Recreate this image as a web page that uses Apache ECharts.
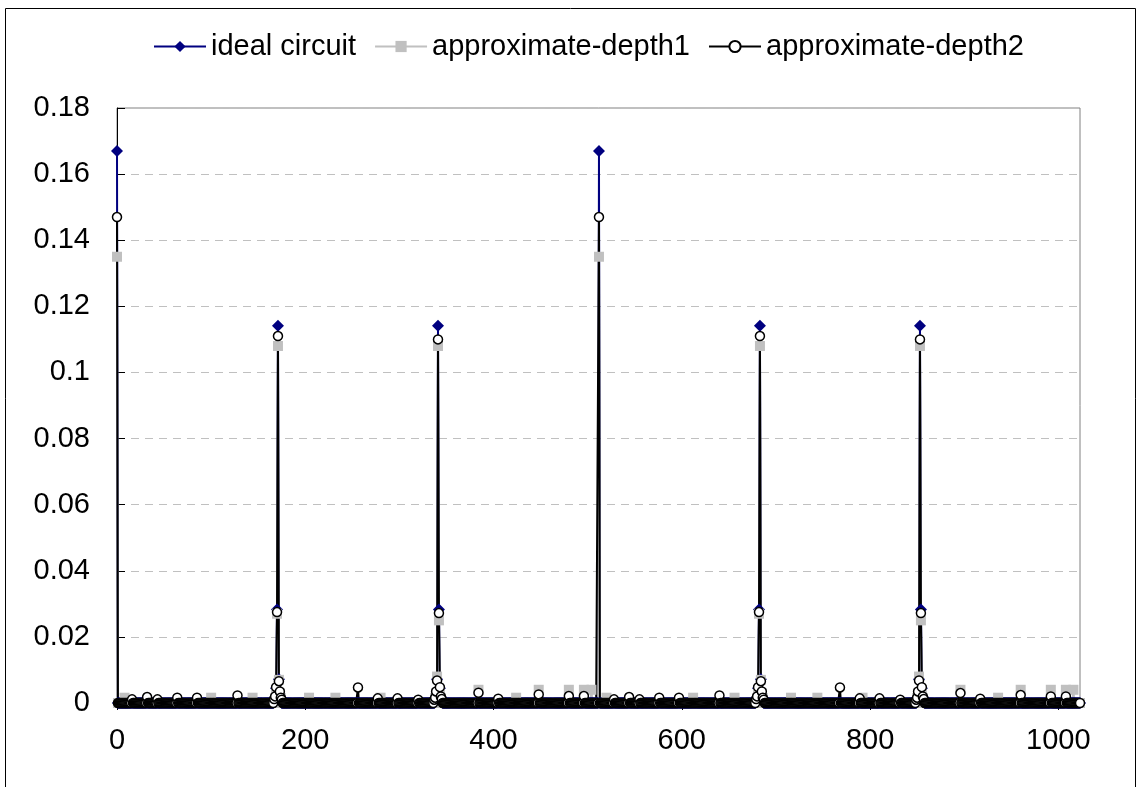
<!DOCTYPE html>
<html><head><meta charset="utf-8">
<script src="https://cdn.jsdelivr.net/npm/echarts@6/dist/echarts.min.js"></script>
<style>html,body{margin:0;padding:0;background:#fff}#c{width:1139px;height:787px}</style>
</head><body><div id="c"></div>
<script>
const seriesNames = ['ideal circuit', 'approximate-depth1', 'approximate-depth2'];
const xTickValues = [0, 200, 400, 600, 800, 1000];
const xTickLabels = ['0', '200', '400', '600', '800', '1000'];
const yTickValues = [0, 0.02, 0.04, 0.06, 0.08, 0.1, 0.12, 0.14, 0.16, 0.18];
const yTickLabels = ['0', '0.02', '0.04', '0.06', '0.08', '0.1', '0.12', '0.14', '0.16', '0.18'];

// values for x = 0..1023, 32 per row (row start index in comment)
const ideal = [
/*0*/   .167,0,0,0,0,0,0,0, 0,0,0,0,0,0,0,0, 0,0,0,0,0,0,0,0, 0,0,0,0,0,0,0,0,
/*32*/  0,0,0,0,0,0,0,0, 0,0,0,0,0,0,0,0, 0,0,0,0,0,0,0,0, 0,0,0,0,0,0,0,0,
/*64*/  0,0,0,0,0,0,0,0, 0,0,0,0,0,0,0,0, 0,0,0,0,0,0,0,0, 0,0,0,0,0,0,0,0,
/*96*/  0,0,0,0,0,0,0,0, 0,0,0,0,0,0,0,0, 0,0,0,0,0,0,0,0, 0,0,0,0,0,0,0,0,
/*128*/ 0,0,0,0,0,0,0,0, 0,0,0,0,0,0,0,0, 0,0,0,0,0,0,0,0, 0,0,0,0,0,0,0,0,
/*160*/ 0,0,0,0,0,0,0,.001, .00175,.0045,.0283,.1141,.00717,.00236,.00116,0, 0,0,0,0,0,0,0,0, 0,0,0,0,0,0,0,0,
/*192*/ 0,0,0,0,0,0,0,0, 0,0,0,0,0,0,0,0, 0,0,0,0,0,0,0,0, 0,0,0,0,0,0,0,0,
/*224*/ 0,0,0,0,0,0,0,0, 0,0,0,0,0,0,0,0, 0,0,0,0,0,0,0,0, 0,0,0,0,0,0,0,0,
/*256*/ 0,0,0,0,0,0,0,0, 0,0,0,0,0,0,0,0, 0,0,0,0,0,0,0,0, 0,0,0,0,0,0,0,0,
/*288*/ 0,0,0,0,0,0,0,0, 0,0,0,0,0,0,0,0, 0,0,0,0,0,0,0,0, 0,0,0,0,0,0,0,0,
/*320*/ 0,0,0,0,0,0,0,0, 0,0,0,0,0,0,0,0, 0,0,.00116,.00236,.00717,.1141,.0283,.0045, .00175,.001,0,0,0,0,0,0,
/*352*/ 0,0,0,0,0,0,0,0, 0,0,0,0,0,0,0,0, 0,0,0,0,0,0,0,0, 0,0,0,0,0,0,0,0,
/*384*/ 0,0,0,0,0,0,0,0, 0,0,0,0,0,0,0,0, 0,0,0,0,0,0,0,0, 0,0,0,0,0,0,0,0,
/*416*/ 0,0,0,0,0,0,0,0, 0,0,0,0,0,0,0,0, 0,0,0,0,0,0,0,0, 0,0,0,0,0,0,0,0,
/*448*/ 0,0,0,0,0,0,0,0, 0,0,0,0,0,0,0,0, 0,0,0,0,0,0,0,0, 0,0,0,0,0,0,0,0,
/*480*/ 0,0,0,0,0,0,0,0, 0,0,0,0,0,0,0,0, 0,0,0,0,0,0,0,0, 0,0,0,0,0,0,0,0,
/*512*/ .167,0,0,0,0,0,0,0, 0,0,0,0,0,0,0,0, 0,0,0,0,0,0,0,0, 0,0,0,0,0,0,0,0,
/*544*/ 0,0,0,0,0,0,0,0, 0,0,0,0,0,0,0,0, 0,0,0,0,0,0,0,0, 0,0,0,0,0,0,0,0,
/*576*/ 0,0,0,0,0,0,0,0, 0,0,0,0,0,0,0,0, 0,0,0,0,0,0,0,0, 0,0,0,0,0,0,0,0,
/*608*/ 0,0,0,0,0,0,0,0, 0,0,0,0,0,0,0,0, 0,0,0,0,0,0,0,0, 0,0,0,0,0,0,0,0,
/*640*/ 0,0,0,0,0,0,0,0, 0,0,0,0,0,0,0,0, 0,0,0,0,0,0,0,0, 0,0,0,0,0,0,0,0,
/*672*/ 0,0,0,0,0,0,0,.001, .00175,.0045,.0283,.1141,.00717,.00236,.00116,0, 0,0,0,0,0,0,0,0, 0,0,0,0,0,0,0,0,
/*704*/ 0,0,0,0,0,0,0,0, 0,0,0,0,0,0,0,0, 0,0,0,0,0,0,0,0, 0,0,0,0,0,0,0,0,
/*736*/ 0,0,0,0,0,0,0,0, 0,0,0,0,0,0,0,0, 0,0,0,0,0,0,0,0, 0,0,0,0,0,0,0,0,
/*768*/ 0,0,0,0,0,0,0,0, 0,0,0,0,0,0,0,0, 0,0,0,0,0,0,0,0, 0,0,0,0,0,0,0,0,
/*800*/ 0,0,0,0,0,0,0,0, 0,0,0,0,0,0,0,0, 0,0,0,0,0,0,0,0, 0,0,0,0,0,0,0,0,
/*832*/ 0,0,0,0,0,0,0,0, 0,0,0,0,0,0,0,0, 0,0,.00116,.00236,.00717,.1141,.0283,.0045, .00175,.001,0,0,0,0,0,0,
/*864*/ 0,0,0,0,0,0,0,0, 0,0,0,0,0,0,0,0, 0,0,0,0,0,0,0,0, 0,0,0,0,0,0,0,0,
/*896*/ 0,0,0,0,0,0,0,0, 0,0,0,0,0,0,0,0, 0,0,0,0,0,0,0,0, 0,0,0,0,0,0,0,0,
/*928*/ 0,0,0,0,0,0,0,0, 0,0,0,0,0,0,0,0, 0,0,0,0,0,0,0,0, 0,0,0,0,0,0,0,0,
/*960*/ 0,0,0,0,0,0,0,0, 0,0,0,0,0,0,0,0, 0,0,0,0,0,0,0,0, 0,0,0,0,0,0,0,0,
/*992*/ 0,0,0,0,0,0,0,0, 0,0,0,0,0,0,0,0, 0,0,0,0,0,0,0,0, 0,0,0,0,0,0,0,0
];

const depth1 = [
/*0*/   .135,0,0,0,0,0,0,0, .0016,0,0,0,0,0,0,0, 0,0,0,0,0,0,0,0, 0,0,0,0,0,0,0,0,
/*32*/  0,0,0,0,0,0,0,0, 0,0,0,0,0,0,0,0, 0,0,0,0,0,0,0,0, 0,0,0,0,0,0,0,0,
/*64*/  0,0,0,0,0,0,0,0, 0,0,0,0,0,0,0,0, 0,0,0,0,0,0,0,0, 0,0,0,0,0,0,0,0,
/*96*/  0,0,0,0,.0016,0,0,0, 0,0,0,0,0,0,0,0, 0,0,0,0,0,0,0,0, 0,0,0,0,0,0,0,0,
/*128*/ 0,0,0,0,0,0,0,0, 0,0,0,0,0,0,0,0, .0016,0,0,0,0,0,0,0, 0,0,0,0,0,0,0,0,
/*160*/ 0,0,0,0,0,0,0,0, .0015,.004,.027,.108,.007,.003,.0015,0, 0,0,0,0,0,0,0,0, 0,0,0,0,0,0,0,0,
/*192*/ 0,0,0,0,0,0,0,0, 0,0,0,0,.0016,0,0,0, 0,0,0,0,0,0,0,0, 0,0,0,0,0,0,0,0,
/*224*/ 0,0,0,0,0,0,0,0, .0016,0,0,0,0,0,0,0, 0,0,0,0,0,0,0,0, 0,0,0,0,0,0,0,0,
/*256*/ 0,0,0,0,0,0,0,0, 0,0,0,0,0,0,0,0, 0,0,0,0,0,0,0,0, .0016,0,0,0,0,0,0,0,
/*288*/ 0,0,0,0,0,0,0,0, 0,0,0,0,0,0,0,0, 0,0,0,0,0,0,0,0, 0,0,0,0,0,0,0,0,
/*320*/ 0,0,0,0,0,0,0,0, 0,0,0,0,0,0,0,0, 0,0,.0015,.003,.008,.108,.025,.004, .0015,0,0,0,0,0,0,0,
/*352*/ 0,0,0,0,0,0,0,0, 0,0,0,0,0,0,0,0, 0,0,0,0,0,0,0,0, 0,0,0,0,0,0,0,0,
/*384*/ .004,0,0,0,0,0,0,0, 0,0,0,0,0,0,0,0, 0,0,0,0,0,0,0,0, 0,0,0,0,0,0,0,0,
/*416*/ 0,0,0,0,0,0,0,0, .0016,0,0,0,0,0,0,0, 0,0,0,0,0,0,0,0, 0,0,0,0,0,0,0,0,
/*448*/ .004,0,0,0,0,0,0,0, 0,0,0,0,0,0,0,0, 0,0,0,0,0,0,0,0, 0,0,0,0,0,0,0,0,
/*480*/ .004,0,0,0,0,0,0,0, 0,0,0,0,0,0,0,0, .004,0,0,0,0,0,0,0, .004,0,0,0,0,0,0,0,
/*512*/ .135,0,0,0,0,0,0,0, .0016,0,0,0,0,0,0,0, 0,0,0,0,0,0,0,0, 0,0,0,0,0,0,0,0,
/*544*/ 0,0,0,0,0,0,0,0, 0,0,0,0,0,0,0,0, 0,0,0,0,0,0,0,0, 0,0,0,0,0,0,0,0,
/*576*/ 0,0,0,0,0,0,0,0, 0,0,0,0,0,0,0,0, 0,0,0,0,0,0,0,0, 0,0,0,0,0,0,0,0,
/*608*/ 0,0,0,0,.0016,0,0,0, 0,0,0,0,0,0,0,0, 0,0,0,0,0,0,0,0, 0,0,0,0,0,0,0,0,
/*640*/ 0,0,0,0,0,0,0,0, 0,0,0,0,0,0,0,0, .0016,0,0,0,0,0,0,0, 0,0,0,0,0,0,0,0,
/*672*/ 0,0,0,0,0,0,0,0, .0015,.004,.027,.108,.007,.003,.0015,0, 0,0,0,0,0,0,0,0, 0,0,0,0,0,0,0,0,
/*704*/ 0,0,0,0,0,0,0,0, 0,0,0,0,.0016,0,0,0, 0,0,0,0,0,0,0,0, 0,0,0,0,0,0,0,0,
/*736*/ 0,0,0,0,0,0,0,0, .0016,0,0,0,0,0,0,0, 0,0,0,0,0,0,0,0, 0,0,0,0,0,0,0,0,
/*768*/ 0,0,0,0,0,0,0,0, 0,0,0,0,0,0,0,0, 0,0,0,0,0,0,0,0, .0016,0,0,0,0,0,0,0,
/*800*/ 0,0,0,0,0,0,0,0, 0,0,0,0,0,0,0,0, 0,0,0,0,0,0,0,0, 0,0,0,0,0,0,0,0,
/*832*/ 0,0,0,0,0,0,0,0, 0,0,0,0,0,0,0,0, 0,0,.0015,.003,.008,.108,.025,.004, .0015,0,0,0,0,0,0,0,
/*864*/ 0,0,0,0,0,0,0,0, 0,0,0,0,0,0,0,0, 0,0,0,0,0,0,0,0, 0,0,0,0,0,0,0,0,
/*896*/ .004,0,0,0,0,0,0,0, 0,0,0,0,0,0,0,0, 0,0,0,0,0,0,0,0, 0,0,0,0,0,0,0,0,
/*928*/ 0,0,0,0,0,0,0,0, .0016,0,0,0,0,0,0,0, 0,0,0,0,0,0,0,0, 0,0,0,0,0,0,0,0,
/*960*/ .004,0,0,0,0,0,0,0, 0,0,0,0,0,0,0,0, 0,0,0,0,0,0,0,0, 0,0,0,0,0,0,0,0,
/*992*/ .004,0,0,0,0,0,0,0, 0,0,0,0,0,0,0,0, .004,0,0,0,0,0,0,0, .004,0,0,0,0,0,0,0
];

const depth2 = [
/*0*/   .147,0,0,0,0,0,0,0, 0,0,0,0,0,0,0,0, .0011,0,0,0,0,0,0,0, 0,0,0,0,0,0,0,0,
/*32*/  .0018,0,0,0,0,0,0,0, 0,0,0,.0011,0,0,0,0, 0,0,0,0,0,0,0,0, 0,0,0,0,0,0,0,0,
/*64*/  .0016,0,0,0,0,0,0,0, 0,0,0,0,0,0,0,0, 0,0,0,0,0,.0016,0,0, 0,0,0,0,0,0,0,0,
/*96*/  0,0,0,0,0,0,0,0, 0,0,0,0,0,0,0,0, 0,0,0,0,0,0,0,0, 0,0,0,0,0,0,0,0,
/*128*/ .0023,0,0,0,0,0,0,0, 0,0,0,0,0,0,0,0, 0,0,0,0,0,0,0,0, 0,0,0,0,0,0,0,0,
/*160*/ 0,0,0,0,0,0,0,.0012, .002,.0048,.0275,.111,.0066,.0035,.0016,.001, 0,0,0,0,0,0,0,0, 0,0,0,0,0,0,0,0,
/*192*/ 0,0,0,0,0,0,0,0, 0,0,0,0,0,0,0,0, 0,0,0,0,0,0,0,0, 0,0,0,0,0,0,0,0,
/*224*/ 0,0,0,0,0,0,0,0, 0,0,0,0,0,0,0,0, 0,0,0,0,0,0,0,0, 0,0,0,0,0,0,0,0,
/*256*/ .0047,0,0,0,0,0,0,0, 0,0,0,0,0,0,0,0, 0,0,0,0,0,.0014,0,0, 0,0,0,0,0,0,0,0,
/*288*/ 0,0,0,0,0,0,0,0, 0,0,.0014,0,0,0,0,0, 0,0,0,0,0,0,0,0, 0,0,0,0,0,0,0,0,
/*320*/ .001,0,0,0,0,0,0,0, 0,0,0,0,0,0,0,0, 0,.001,.0016,.0035,.0068,.110,.0272,.0048, .002,.0012,0,0,0,0,0,0,
/*352*/ 0,0,0,0,0,0,0,0, 0,0,0,0,0,0,0,0, 0,0,0,0,0,0,0,0, 0,0,0,0,0,0,0,0,
/*384*/ .0031,0,0,0,0,0,0,0, 0,0,0,0,0,0,0,0, 0,0,0,0,0,.0013,0,0, 0,0,0,0,0,0,0,0,
/*416*/ 0,0,0,0,0,0,0,0, 0,0,0,0,0,0,0,0, 0,0,0,0,0,0,0,0, 0,0,0,0,0,0,0,0,
/*448*/ .0026,0,0,0,0,0,0,0, 0,0,0,0,0,0,0,0, 0,0,0,0,0,0,0,0, 0,0,0,0,0,0,0,0,
/*480*/ .0021,0,0,0,0,0,0,0, 0,0,0,0,0,0,0,0, .0021,0,0,0,0,0,0,0, 0,0,0,0,0,0,0,0,
/*512*/ .147,0,0,0,0,0,0,0, 0,0,0,0,0,0,0,0, .0011,0,0,0,0,0,0,0, 0,0,0,0,0,0,0,0,
/*544*/ .0018,0,0,0,0,0,0,0, 0,0,0,.0011,0,0,0,0, 0,0,0,0,0,0,0,0, 0,0,0,0,0,0,0,0,
/*576*/ .0016,0,0,0,0,0,0,0, 0,0,0,0,0,0,0,0, 0,0,0,0,0,.0016,0,0, 0,0,0,0,0,0,0,0,
/*608*/ 0,0,0,0,0,0,0,0, 0,0,0,0,0,0,0,0, 0,0,0,0,0,0,0,0, 0,0,0,0,0,0,0,0,
/*640*/ .0023,0,0,0,0,0,0,0, 0,0,0,0,0,0,0,0, 0,0,0,0,0,0,0,0, 0,0,0,0,0,0,0,0,
/*672*/ 0,0,0,0,0,0,0,.0012, .002,.0048,.0275,.111,.0066,.0035,.0016,.001, 0,0,0,0,0,0,0,0, 0,0,0,0,0,0,0,0,
/*704*/ 0,0,0,0,0,0,0,0, 0,0,0,0,0,0,0,0, 0,0,0,0,0,0,0,0, 0,0,0,0,0,0,0,0,
/*736*/ 0,0,0,0,0,0,0,0, 0,0,0,0,0,0,0,0, 0,0,0,0,0,0,0,0, 0,0,0,0,0,0,0,0,
/*768*/ .0047,0,0,0,0,0,0,0, 0,0,0,0,0,0,0,0, 0,0,0,0,0,.0014,0,0, 0,0,0,0,0,0,0,0,
/*800*/ 0,0,0,0,0,0,0,0, 0,0,.0014,0,0,0,0,0, 0,0,0,0,0,0,0,0, 0,0,0,0,0,0,0,0,
/*832*/ .001,0,0,0,0,0,0,0, 0,0,0,0,0,0,0,0, 0,.001,.0016,.0035,.0068,.110,.0272,.0048, .002,.0012,0,0,0,0,0,0,
/*864*/ 0,0,0,0,0,0,0,0, 0,0,0,0,0,0,0,0, 0,0,0,0,0,0,0,0, 0,0,0,0,0,0,0,0,
/*896*/ .003,0,0,0,0,0,0,0, 0,0,0,0,0,0,0,0, 0,0,0,0,0,.0013,0,0, 0,0,0,0,0,0,0,0,
/*928*/ 0,0,0,0,0,0,0,0, 0,0,0,0,0,0,0,0, 0,0,0,0,0,0,0,0, 0,0,0,0,0,0,0,0,
/*960*/ .0024,0,0,0,0,0,0,0, 0,0,0,0,0,0,0,0, 0,0,0,0,0,0,0,0, 0,0,0,0,0,0,0,0,
/*992*/ .002,0,0,0,0,0,0,0, 0,0,0,0,0,0,0,0, .002,0,0,0,0,0,0,0, 0,0,0,0,0,0,0,0
];

[ideal, depth1, depth2].forEach((a, k) => { if (a.length !== 1024) throw new Error('series ' + k + ' length ' + a.length); });

const FONT = "'Liberation Sans', Arial, sans-serif";
const toPairs = arr => arr.map((v, i) => [i, v]);

const chart = echarts.init(document.getElementById('c'), null, { renderer: 'canvas' });
chart.setOption({
  animation: false,
  backgroundColor: '#fff',
  graphic: [{
    type: 'rect', silent: true, z: -10,
    shape: { x: 5.5, y: 8.5, width: 1130, height: 800 },
    style: { fill: 'none', stroke: '#000', lineWidth: 1 }
  }],
  legend: {
    data: seriesNames,
    top: 27, left: 148,
    itemWidth: 52, itemHeight: 14, itemGap: 18,
    textStyle: { fontSize: 29, fontFamily: FONT, color: '#000' }
  },
  grid: { left: 117, right: 59, top: 108, bottom: 84, show: true, borderColor: '#808080', borderWidth: 1, backgroundColor: 'transparent' },
  xAxis: {
    type: 'value', min: 0, max: 1023,
    axisLine: { onZero: false, lineStyle: { color: '#000', width: 1 } },
    axisTick: { show: true, length: 7, customValues: xTickValues, lineStyle: { color: '#000' } },
    axisLabel: {
      customValues: xTickValues, fontSize: 29, fontFamily: FONT, color: '#000', margin: 23,
      formatter: v => { const k = xTickValues.indexOf(v); return k >= 0 ? xTickLabels[k] : ''; }
    },
    splitLine: { show: false }
  },
  yAxis: {
    type: 'value', min: 0, max: 0.18, interval: 0.02,
    axisLine: { show: true, lineStyle: { color: '#000', width: 1 } },
    axisTick: { show: true, inside: true, length: 8, lineStyle: { color: '#000' } },
    axisLabel: {
      fontSize: 29, fontFamily: FONT, color: '#000', margin: 27,
      formatter: v => { const k = Math.round(v / 0.02); return yTickLabels[k] !== undefined ? yTickLabels[k] : ''; }
    },
    splitLine: { show: true, lineStyle: { color: '#c0c0c0', width: 1, type: [8, 6] } }
  },
  series: [
    {
      name: seriesNames[0], type: 'line', data: toPairs(ideal),
      symbol: 'diamond', symbolSize: 12, showSymbol: true,
      lineStyle: { color: '#000080', width: 2 },
      itemStyle: { color: '#000080' },
      emphasis: { disabled: true }
    },
    {
      name: seriesNames[1], type: 'line', data: toPairs(depth1),
      symbol: 'rect', symbolSize: 10, showSymbol: true,
      lineStyle: { color: '#c0c0c0', width: 2 },
      itemStyle: { color: '#c0c0c0' },
      emphasis: { disabled: true }
    },
    {
      name: seriesNames[2], type: 'line', data: toPairs(depth2),
      symbol: 'circle', symbolSize: 9, showSymbol: true,
      lineStyle: { color: '#000', width: 2 },
      itemStyle: { color: '#fff', borderColor: '#000', borderWidth: 1.5 },
      emphasis: { disabled: true }
    }
  ]
});
</script>
</body></html>
